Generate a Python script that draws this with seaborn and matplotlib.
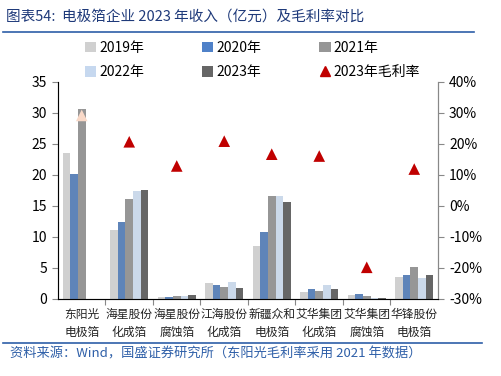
import numpy as np
import pandas as pd
import matplotlib
matplotlib.use('Agg')
import matplotlib.pyplot as plt
from matplotlib.patches import Patch
from matplotlib.lines import Line2D
import seaborn as sns

# 数据
companies = ['东阳光\n电极箔', '海星股份\n化成箔', '海星股份\n腐蚀箔', '江海股份\n化成箔',
             '新疆众和\n电极箔', '艾华集团\n化成箔', '艾华集团\n腐蚀箔', '华锋股份\n电极箔']
years = ['2019年', '2020年', '2021年', '2022年', '2023年']
rev_2019 = [23.6, 11.1, 0.3, 2.5, 8.6, 1.1, 0.7, 3.6]
rev_2020 = [20.1, 12.4, 0.3, 2.25, 10.8, 1.65, 0.8, 3.9]
rev_2021 = [30.7, 16.2, 0.4, 2.0, 16.6, 1.2, 0.55, 5.2]
rev_2022 = [np.nan, 17.4, 0.4, 2.7, 16.6, 2.3, 0.1, 3.4]
rev_2023 = [np.nan, 17.5, 0.6, 1.8, 15.7, 1.6, 0.2, 3.85]
margin_2023 = [29.2, 20.7, 12.9, 20.9, 16.7, 16.1, -19.8, 11.9]

colors = ['#D0D0D0', '#4F81C8', '#969696', '#C6D8EF', '#666666']
red = '#C00000'
peach = '#F9D9C8'

plt.rcParams['font.family'] = ['Noto Sans CJK SC', 'DejaVu Sans']
plt.rcParams['axes.unicode_minus'] = False

rows = []
for y, vals in zip(years, [rev_2019, rev_2020, rev_2021, rev_2022, rev_2023]):
    for c, v in zip(companies, vals):
        rows.append({'company': c, 'year': y, 'rev': v})
df = pd.DataFrame(rows).dropna()

fig = plt.figure(figsize=(5.02, 3.76), dpi=100)
ax = fig.add_axes([0.1155, 0.205, 0.757, 0.577])

sns.barplot(data=df, x='company', y='rev', hue='year', order=companies, hue_order=years,
            palette=colors, width=0.8, gap=0, errorbar=None, legend=False, ax=ax)

ax.set_ylim(0, 35)
ax.set_yticks(range(0, 36, 5))
ax.set_xlim(-0.5, 7.5)
ax.set_xlabel('')
ax.set_ylabel('')
ax.set_xticks(np.arange(0.5, 7.5, 1))
ax.set_xticklabels([])
ax.tick_params(axis='x', length=4, color='#888888')
for i, c in enumerate(companies):
    ax.text(i, -1.4, c, ha='center', va='top', fontsize=8.5, linespacing=1.55, color='#222222')
ax.tick_params(axis='y', labelsize=10, length=4, color='#888888', pad=4)
ax.spines['top'].set_visible(False)
for s in ['left', 'right', 'bottom']:
    ax.spines[s].set_color('#888888')

ax2 = ax.twinx()
mdf = pd.DataFrame({'x': np.arange(len(companies)), 'm': margin_2023,
                    'kind': ['2021'] + ['2023'] * 7})
sns.scatterplot(data=mdf, x='x', y='m', hue='kind', palette={'2021': peach, '2023': red},
                marker='^', s=70, edgecolor='none', legend=False, ax=ax2, zorder=5)
ax2.set_ylim(-30, 40)
ax2.set_yticks(range(-30, 41, 10))
ax2.set_yticklabels([f'{v}%' for v in range(-30, 41, 10)])
ax2.set_ylabel('')
ax2.tick_params(axis='y', labelsize=10, length=4, color='#888888', pad=4)
ax2.spines['top'].set_visible(False)
ax2.spines['right'].set_color('#888888')
ax2.set_xlim(-0.5, 7.5)

handles = [Patch(facecolor=c, edgecolor='none', label=y) for c, y in zip(colors, years)]
handles.append(Line2D([], [], marker='^', color=red, linestyle='none', markersize=7,
                      label='2023年毛利率'))
order = [0, 3, 1, 4, 2, 5]
leg = fig.legend(handles=[handles[i] for i in order], ncol=3, loc='upper left',
                 bbox_to_anchor=(0.145, 0.925), frameon=False, fontsize=10,
                 handlelength=0.8, handleheight=0.8, handletextpad=0.2,
                 columnspacing=4.2, labelspacing=0.75)

fig.text(0.012, 0.955, '图表54:  电极箔企业 2023 年收入（亿元）及毛利率对比', fontsize=10.5,
         color='#1F3A7A', style='italic', va='center')
fig.add_artist(Line2D([0.005, 0.945], [0.915, 0.915], color='#2E5FA8', lw=1.2))
fig.add_artist(Line2D([0.005, 0.96], [0.088, 0.088], color='#2E5FA8', lw=1.2))
fig.text(0.02, 0.058, '资料来源：Wind，国盛证券研究所（东阳光毛利率采用 2021 年数据）', fontsize=9.5,
         color='#2E5FA8', style='italic', va='center')

fig.savefig('out.png', dpi=100)
